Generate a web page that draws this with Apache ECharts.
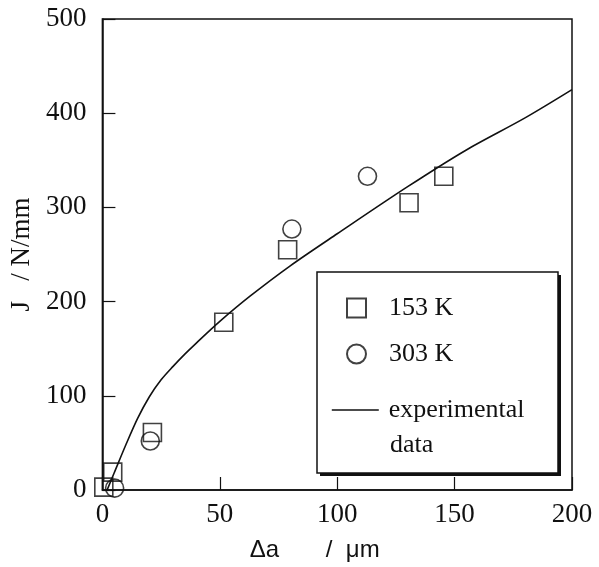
<!DOCTYPE html>
<html>
<head>
<meta charset="utf-8">
<script src="https://cdn.jsdelivr.net/npm/echarts@6/dist/echarts.min.js"></script>
<style>
  html, body { margin: 0; padding: 0; background: #fff; }
  #chart { width: 599px; height: 567px; }
</style>
</head>
<body>
<div id="chart"></div>
<script>
// 153 K (squares)
const sqX = [0.6, 4.4, 21.3, 51.7, 78.9, 130.6, 145.4];
const sqY = [3, 19, 61, 178, 255, 305, 333];
// 303 K (circles)
const ciX = [5.2, 20.4, 80.7, 112.9];
const ciY = [2, 52, 277, 333];
// experimental data curve
const curveX = [2, 5, 10, 15, 20, 25, 30, 35, 40, 50, 63, 80, 100, 130, 155, 180, 200];
const curveY = [0, 18, 48, 76, 99, 117, 131, 144, 156, 179, 206, 238, 272, 322, 361, 395, 425];

const xTicks = [0, 50, 100, 150, 200];
const yTicks = [0, 100, 200, 300, 400, 500];

const zip = (xs, ys) => xs.map((x, i) => [x, ys[i]]);
const serif = 'Liberation Serif';
const ink = '#111';

const chart = echarts.init(document.getElementById('chart'));

chart.setOption({
  backgroundColor: '#fff',
  animation: false,
  grid: {
    left: 102, top: 19, right: 27, bottom: 76,
    show: true, borderColor: ink, borderWidth: 1.5, backgroundColor: 'transparent'
  },
  xAxis: {
    type: 'value',
    min: xTicks[0], max: xTicks[xTicks.length - 1], interval: 50,
    name: 'Δa       /  μm',
    nameLocation: 'middle',
    nameGap: 48,
    nameTextStyle: { fontFamily: 'Liberation Sans', fontSize: 24, color: ink, padding: [0, 45, 0, 0] },
    axisLine: { lineStyle: { color: ink, width: 1.5 } },
    axisTick: { inside: true, length: 13, lineStyle: { color: ink, width: 1.2 } },
    axisLabel: { margin: 11, fontFamily: serif, fontSize: 27, color: ink },
    splitLine: { show: false }
  },
  yAxis: {
    type: 'value',
    min: yTicks[0], max: yTicks[yTicks.length - 1], interval: 100,
    name: 'J   / N/mm',
    nameLocation: 'middle',
    nameGap: 62,
    nameRotate: 90,
    nameTextStyle: { fontFamily: serif, fontSize: 27, color: ink },
    axisLine: { lineStyle: { color: ink, width: 1.5 } },
    axisTick: { inside: true, length: 13, lineStyle: { color: ink, width: 1.2 } },
    axisLabel: { margin: 16, fontFamily: serif, fontSize: 27, color: ink },
    splitLine: { show: false }
  },
  legend: [
    {
      data: ['153 K', '303 K'],
      orient: 'vertical',
      left: 341, top: 290,
      itemGap: 20,
      itemWidth: 19, itemHeight: 19,
      z: 10,
      textStyle: { fontFamily: serif, fontSize: 26, color: ink, padding: [0, 0, 0, 18] }
    },
    {
      data: [{ name: 'experimental', itemStyle: { opacity: 0 } }],
      orient: 'vertical',
      left: 326, top: 392,
      itemWidth: 47, itemHeight: 19,
      z: 10,
      lineStyle: { color: ink, width: 1.6 },
      textStyle: { fontFamily: serif, fontSize: 26, color: ink, padding: [0, 0, 0, 5] }
    }
  ],
  graphic: [
    // drop shadow of the legend box
    {
      type: 'rect', z: 5,
      shape: { x: 320, y: 275, width: 241, height: 201 },
      style: { fill: ink }
    },
    {
      type: 'rect', z: 6,
      shape: { x: 317, y: 272, width: 241, height: 201 },
      style: { fill: '#fff', stroke: ink, lineWidth: 1.5 }
    },
    {
      type: 'text', z: 10,
      left: 390, top: 432,
      style: { text: 'data', fontFamily: serif, fontSize: 26, fill: ink }
    }
  ],
  series: [
    {
      name: 'experimental',
      type: 'line',
      data: zip(curveX, curveY),
      smooth: 0.3,
      symbol: 'none',
      lineStyle: { color: ink, width: 1.6 },
      itemStyle: { color: ink }
    },
    {
      name: '153 K',
      type: 'scatter',
      data: zip(sqX, sqY),
      symbol: 'rect',
      symbolSize: 18,
      itemStyle: { color: 'transparent', borderColor: ink, borderWidth: 1.6 }
    },
    {
      name: '303 K',
      type: 'scatter',
      data: zip(ciX, ciY),
      symbol: 'circle',
      symbolSize: 18,
      itemStyle: { color: 'transparent', borderColor: ink, borderWidth: 1.6 }
    }
  ]
});
</script>
</body>
</html>
